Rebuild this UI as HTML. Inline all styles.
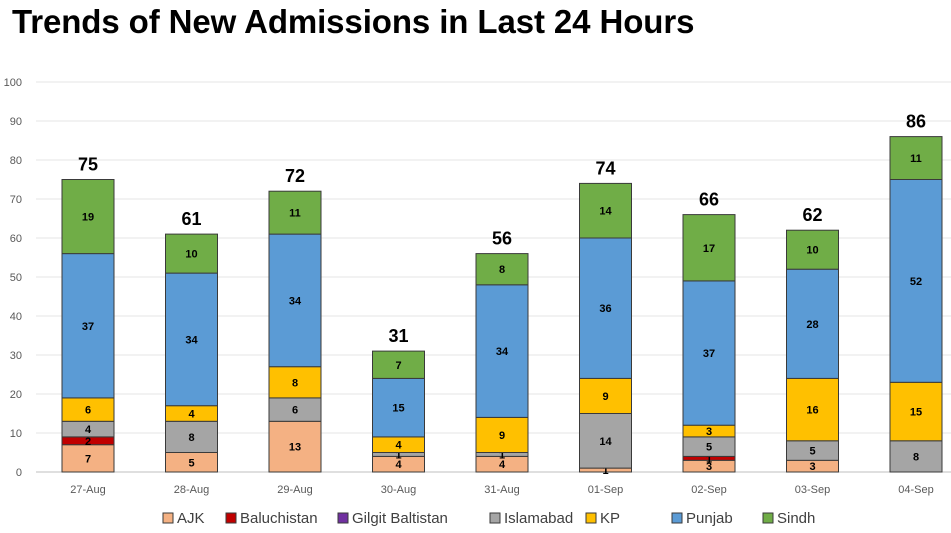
<!DOCTYPE html>
<html><head><meta charset="utf-8">
<style>
body{margin:0;background:#fff;width:951px;height:533px;overflow:hidden;font-family:"Liberation Sans",sans-serif}
#title{position:absolute;left:12px;top:3px;font-size:33px;font-weight:bold;color:#000;letter-spacing:-0.1px;white-space:nowrap}
svg{position:absolute;left:0;top:0}
</style></head>
<body>
<div id="title">Trends of New Admissions in Last 24 Hours</div>
<svg id="c" width="951" height="533"></svg>
<script>
const categories=["27-Aug","28-Aug","29-Aug","30-Aug","31-Aug","01-Sep","02-Sep","03-Sep","04-Sep"];
const seriesNames=["AJK","Baluchistan","Gilgit Baltistan","Islamabad","KP","Punjab","Sindh"];
const seriesColors=["#f4b183","#c00000","#7030a0","#a5a5a5","#ffc000","#5b9bd5","#70ad47"];
const ajk=[7,5,13,4,4,1,3,3,0];
const baluchistan=[2,0,0,0,0,0,1,0,0];
const gilgit=[0,0,0,0,0,0,0,0,0];
const islamabad=[4,8,6,1,1,14,5,5,8];
const kp=[6,4,8,4,9,9,3,16,15];
const punjab=[37,34,34,15,34,36,37,28,52];
const sindh=[19,10,11,7,8,14,17,10,11];
const yTicks=[0,10,20,30,40,50,60,70,80,90,100];
const series=[ajk,baluchistan,gilgit,islamabad,kp,punjab,sindh];

const NS="http://www.w3.org/2000/svg";
const svg=document.getElementById('c');
const y0=472,yTop=82,xL=36,xR=951;
const y=v=>y0-(v/100)*(y0-yTop);
const step=103.5,x0=88;
const xc=i=>x0+i*step;
const bw=52;
function mk(t,a,txt){const e=document.createElementNS(NS,t);for(const k in a)e.setAttribute(k,a[k]);if(txt!==undefined)e.textContent=txt;svg.appendChild(e);return e;}

yTicks.forEach(t=>{
  const g=mk('line',{x1:xL,x2:xR,y1:y(t),y2:y(t),stroke:t===0?'#bfbfbf':'#e6e6e6','stroke-width':1});
  
  
  const l=mk('text',{x:22,y:y(t)+4,'font-size':11,fill:'#595959','text-anchor':'end'},t);
  
  
});

categories.forEach((c,i)=>{
  let cum=0;
  series.forEach((s,j)=>{
    const v=s[i];
    if(v<=0)return;
    const r=mk('rect',{x:xc(i)-bw/2,y:y(cum+v),width:bw,height:y(cum)-y(cum+v),fill:seriesColors[j],stroke:'#3a3a3a','stroke-width':1});
    
    
    const lt=mk('text',{x:xc(i),y:(y(cum)+y(cum+v))/2+4,'font-size':11,'font-weight':'bold',fill:'#000','text-anchor':'middle'},v);
    
    
    cum+=v;
  });
  const tl=mk('text',{x:xc(i),y:y(cum)-9,'font-size':18,'font-weight':'bold',fill:'#000','text-anchor':'middle'},cum);
  
  
  const xl=mk('text',{x:xc(i),y:493,'font-size':11,fill:'#595959','text-anchor':'middle'},c);
  
  
});

const legX=[163,226,338,490,586,672,763];
seriesNames.forEach((n,j)=>{
  const r=mk('rect',{x:legX[j],y:513,width:10,height:10,fill:seriesColors[j],stroke:'#3a3a3a','stroke-width':1});
  
  
  const t=mk('text',{x:legX[j]+14,y:523,'font-size':15,fill:'#404040'},n);
  
  
});
</script>
</body></html>
